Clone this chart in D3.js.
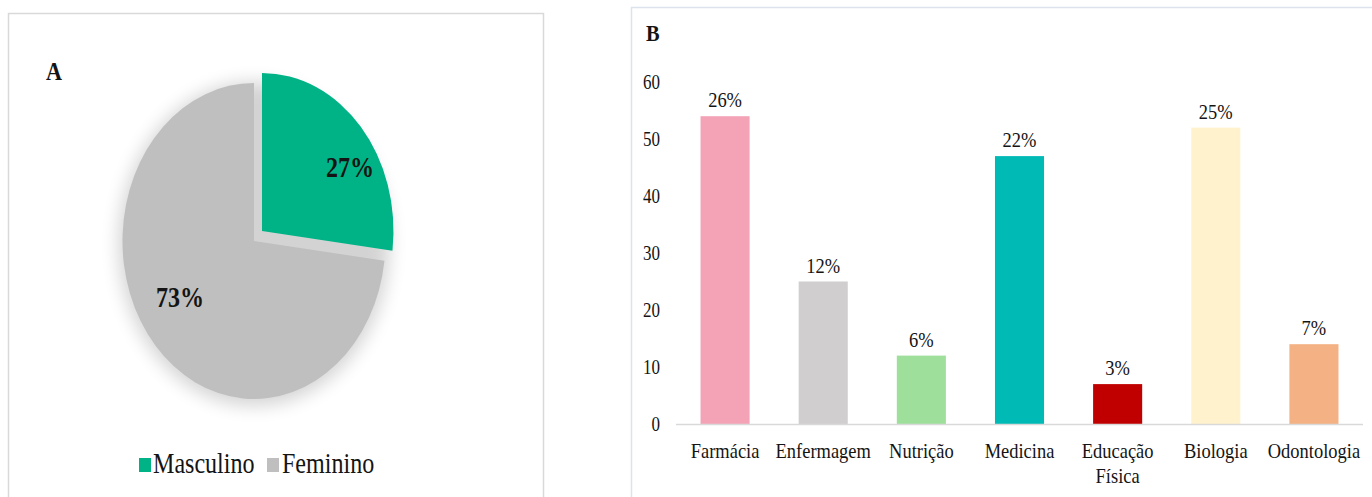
<!DOCTYPE html>
<html>
<head>
<meta charset="utf-8">
<script src="https://cdn.jsdelivr.net/npm/d3@7/dist/d3.min.js"></script>
<style>
  html, body { margin: 0; padding: 0; background: #fff; }
  svg { display: block; }
  svg text { font-family: "Liberation Serif", "Times New Roman", Times, "DejaVu Serif", serif; }
</style>
</head>
<body>
<script>
// Panel A: sex distribution
const sexLabels = ["Masculino", "Feminino"];
const sexValues = [27, 73];
const sexColors = ["#00b386", "#bfbfbf"];

// Panel B: respondents by course
const courses = ["Farmácia", "Enfermagem", "Nutrição", "Medicina", "Educação Física", "Biologia", "Odontologia"];
const courseCounts = [54, 25, 12, 47, 7, 52, 14];
const courseColors = ["#f4a3b6", "#d0cece", "#9fdf9c", "#00bab6", "#c00000", "#fff2cc", "#f4b183"];
const yTickValues = [0, 10, 20, 30, 40, 50, 60];

const W = 1372, H = 497;
const ink = "#141414";

const svg = d3.select("body").append("svg")
  .attr("width", W).attr("height", H)
  .attr("viewBox", `0 0 ${W} ${H}`);

svg.append("rect").attr("width", W).attr("height", H).attr("fill", "#fff");

// Text in this figure is set in a narrow serif; squeeze horizontally.
function addText(parent, x, y, str, size, sx, opts = {}) {
  return parent.append("text")
    .attr("transform", `translate(${x},${y}) scale(${sx},1)`)
    .style("font-size", size + "px")
    .style("font-weight", opts.bold ? "bold" : "normal")
    .attr("text-anchor", opts.anchor || "start")
    .attr("fill", ink)
    .text(str);
}

/* ---------------- Panel A ---------------- */
const pA = svg.append("g");
pA.append("rect")
  .attr("x", 8.5).attr("y", 13.5).attr("width", 535).attr("height", 520)
  .attr("fill", "none").attr("stroke", "#d9d9d9").attr("stroke-width", 1.5);

addText(pA, 46, 80, "A", 26, 0.85, { bold: true });

const defs = svg.append("defs");
defs.append("filter").attr("id", "pieShadow")
  .attr("x", "-50%").attr("y", "-50%").attr("width", "200%").attr("height", "200%")
  .append("feGaussianBlur").attr("stdDeviation", 9);

const pieC = { x: 254, y: 241, rx: 131.5, ry: 158 };
const explode = [[8, -10], [0, 0]];

pA.append("ellipse")
  .attr("cx", pieC.x).attr("cy", pieC.y + 3)
  .attr("rx", pieC.rx + 4).attr("ry", pieC.ry + 4)
  .attr("fill", "#000").attr("opacity", 0.17)
  .attr("filter", "url(#pieShadow)");

const pie = d3.pie().sort(null).value(d => d)(sexValues);
const arc = d3.arc().innerRadius(0).outerRadius(1);

pA.selectAll("path.slice").data(pie).join("path")
  .attr("class", "slice")
  .attr("d", arc)
  .attr("fill", (d, i) => sexColors[i])
  .attr("transform", (d, i) =>
    `translate(${pieC.x + explode[i][0]},${pieC.y + explode[i][1]}) scale(${pieC.rx},${pieC.ry})`);

// percentage labels placed along each slice's mid-angle
pie.forEach((d, i) => {
  const a = (d.startAngle + d.endAngle) / 2;
  const lx = pieC.x + explode[i][0] + Math.sin(a) * pieC.rx * 0.82 + 7;
  const ly = pieC.y + explode[i][1] - Math.cos(a) * pieC.ry * 0.575;
  addText(pA, lx, ly + 6, `${d.data}%`, 30, 0.8, { bold: true, anchor: "middle" });
});

// legend
const legendItems = [{ x: 139, tx: 153 }, { x: 267, tx: 282 }];
sexLabels.forEach((lab, i) => {
  pA.append("rect")
    .attr("x", legendItems[i].x).attr("y", 458).attr("width", 12).attr("height", 14)
    .attr("fill", sexColors[i]);
  addText(pA, legendItems[i].tx, 473, lab, 29, 0.83);
});

/* ---------------- Panel B ---------------- */
const pB = svg.append("g");
pB.append("rect")
  .attr("x", 631.5).attr("y", 7.5).attr("width", 900).attr("height", 600)
  .attr("fill", "none").attr("stroke", "#dce3ec").attr("stroke-width", 1.5);

addText(pB, 646, 41, "B", 24, 0.85, { bold: true });

const plot = { left: 676, right: 1363, top: 82, bottom: 424 };

const x = d3.scaleBand()
  .domain(courses)
  .range([plot.left, plot.right])
  .paddingInner(0.5)
  .paddingOuter(0.25);

const y = d3.scaleLinear().domain([0, 60]).range([plot.bottom, plot.top]);

// y axis labels only (no line, no ticks)
const yAxis = pB.append("g")
  .attr("transform", `translate(${660},0)`)
  .call(d3.axisLeft(y).tickValues(yTickValues).tickSize(0).tickPadding(0));
yAxis.attr("font-family", null).attr("font-size", null);
yAxis.select(".domain").remove();
yAxis.selectAll("text")
  .style("font-size", "20px")
  .attr("fill", ink)
  .attr("transform", "scale(0.85,1)");

const total = d3.sum(courseCounts);
const rows = courses.map((c, i) => ({ course: c, count: courseCounts[i], color: courseColors[i] }));

pB.selectAll("rect.bar").data(rows).join("rect")
  .attr("class", "bar")
  .attr("x", d => x(d.course))
  .attr("y", d => y(d.count))
  .attr("width", x.bandwidth())
  .attr("height", d => y(0) - y(d.count))
  .attr("fill", d => d.color);

// baseline
pB.append("line")
  .attr("x1", plot.left).attr("x2", plot.right)
  .attr("y1", y(0) + 0.5).attr("y2", y(0) + 0.5)
  .attr("stroke", "#d9d9d9").attr("stroke-width", 1.5);

// share of total above each bar
rows.forEach(d => {
  const cx = x(d.course) + x.bandwidth() / 2;
  addText(pB, cx, y(d.count) - 9, `${Math.round(d.count / total * 100)}%`, 21, 0.88, { anchor: "middle" });
});

// category labels, wrapped on spaces
rows.forEach(d => {
  const cx = x(d.course) + x.bandwidth() / 2;
  const t = addText(pB, cx, 458, "", 22, 0.84, { anchor: "middle" });
  d.course.split(" ").forEach((w, k) => {
    t.append("tspan").attr("x", 0).attr("y", k * 25).text(w);
  });
});
</script>
</body>
</html>
